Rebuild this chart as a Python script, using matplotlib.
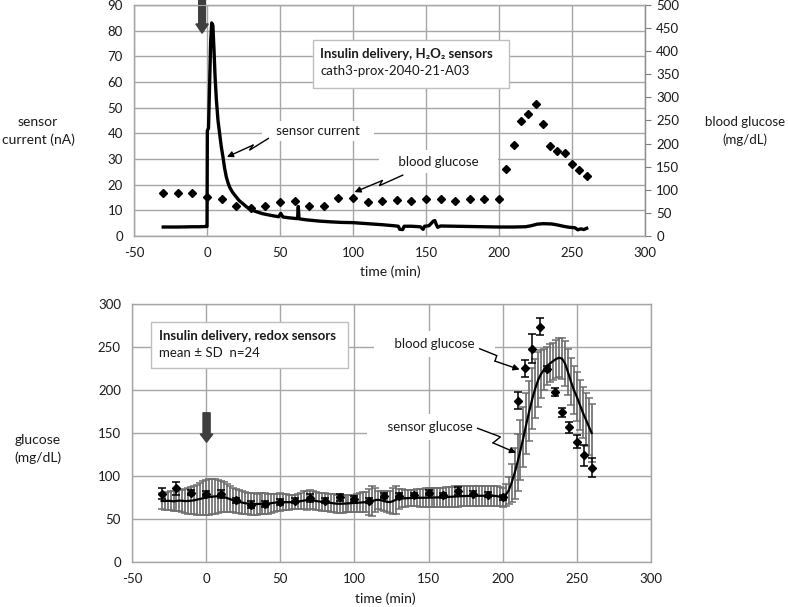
import matplotlib
matplotlib.use("Agg")
import matplotlib.pyplot as plt
from matplotlib.patches import Rectangle, FancyArrow

plt.rcParams['font.family'] = ['Lato', 'DejaVu Sans']
plt.rcParams['axes.unicode_minus'] = False

# ---------------- data: top panel ----------------
cur_time = [-30, -20, -10, -5, -1, 0, 0.2, 1, 1.8, 2.5, 3.2, 4, 4.8, 5.5, 6.4, 7.5, 8.6,
            9.7, 10.9, 12, 13.2, 14.5, 15.5, 17.5, 20, 22, 24.5, 27, 29, 33, 38, 44, 49,
            50.5, 52, 56, 61, 62, 62.5, 63, 68, 77, 85, 92, 100, 110, 120, 128, 131, 132,
            134, 135, 140, 146, 148, 149, 152, 155, 156, 157, 158, 160, 170, 180, 190,
            200, 210, 218, 222, 226, 230, 236, 240, 244, 248, 252, 254, 256, 258, 260]
cur_nA = [3.5, 3.5, 3.6, 3.6, 3.7, 3.7, 41, 42, 60, 76, 83, 82, 72, 62, 53, 45, 40,
          35, 30.8, 26.5, 23, 20.5, 19, 17, 15.2, 13.8, 12.6, 11.4, 10.6, 9.6, 8.7, 8.0, 7.5,
          8.8, 7.4, 7.1, 6.8, 6.8, 11.5, 6.7, 6.3, 5.8, 5.5, 5.3, 5.2, 4.8, 4.4, 4.0, 3.8, 2.6,
          2.5, 3.8, 3.8, 3.6, 2.6, 3.8, 4.0, 5.8, 6.0, 4.5, 3.4, 3.9, 3.8, 3.7, 3.6,
          3.5, 3.5, 3.6, 4.0, 4.6, 4.8, 4.7, 4.3, 3.8, 3.4, 3.2, 2.4, 2.8, 2.5, 3.0]

bg_top_time = [-30, -20, -10, 0, 10, 20, 30, 40, 50, 60, 70, 80, 90, 100, 110, 120, 130,
               140, 150, 160, 170, 180, 190, 200, 205, 210, 215, 220, 225, 230, 235, 240,
               245, 250, 255, 260]
bg_top = [92, 92, 92, 85, 80, 64, 60, 66, 73, 75, 64, 64, 83, 83, 73, 75, 77,
          75, 81, 79, 75, 81, 81, 79, 144, 198, 248, 265, 286, 242, 194, 183,
          179, 156, 143, 130]

# ---------------- data: bottom panel ----------------
sg_time = list(range(-30, 261, 2))
sg_mean = [71.0, 70.8, 71.2, 71.0, 70.6, 71.0, 71.4, 71.2, 70.8, 71.0, 71.3, 71.8, 72.6, 73.5,
           74.3, 75.0, 75.6, 76.0, 76.3, 76.5, 76.4, 75.6, 74.4, 73.2, 72.0, 71.2, 70.2, 69.2,
           68.5, 68.0, 67.7, 67.5, 67.4, 67.6, 67.7, 67.7, 68.0, 68.5, 69.0, 69.4, 69.7, 69.8,
           69.6, 69.5, 69.6, 69.7, 70.3, 71.0, 71.6, 72.0, 72.2, 71.8, 71.0, 70.4, 69.9, 69.7,
           69.2, 68.6, 68.1, 67.8, 67.7, 67.8, 68.0, 68.2, 68.4, 68.5, 68.8, 69.1, 69.4, 69.6,
           70.0, 71.0, 71.9, 72.4, 71.8, 70.8, 70.0, 69.7, 70.8, 72.4, 73.6, 73.9, 74.1, 74.3,
           74.6, 74.8, 74.8, 74.7, 74.8, 74.8, 74.8, 74.9, 75.0, 75.0, 75.1, 75.2, 75.5, 75.8,
           76.0, 76.2, 76.4, 76.6, 76.7, 76.8, 76.9, 77.0, 77.0, 77.0, 77.1, 77.0, 77.0, 77.0,
           77.0, 76.6, 76.0, 75.4, 78.0, 83.0, 92.0, 103.0, 116.0, 130.0, 145.0, 161.0, 176.0,
           190.0, 202.0, 212.0, 219.0, 224.0, 228.0, 231.0, 233.6, 236.0, 237.5, 236.5, 231.0,
           221.0, 210.0, 200.0, 192.0, 183.0, 174.0, 166.0, 158.0, 150.0]
sg_sd = [9.5, 10, 10.5, 11, 11.5, 12, 12.5, 13, 14, 15, 15.5, 16.5, 17.5, 18.5,
         19.5, 20, 20.5, 20.5, 20, 19, 18, 17, 16, 15, 14.2, 13.8, 13.4, 13,
         12.8, 12.6, 12.5, 12.4, 12.2, 12.1, 12, 12, 11.6, 11.1, 10.6, 10.2, 10, 9.5,
         9, 8.5, 8.2, 8, 8.6, 9.4, 10.4, 11, 11, 10.5, 10.2, 10, 10, 10,
         10.2, 10.4, 10.5, 10.5, 10.5, 10.3, 10.1, 10, 10, 10, 10.5, 11, 11.5, 12,
         15, 17, 14, 10.5, 11, 11.8, 12.3, 12.5, 15, 16, 11.5, 10.5, 10, 9.6,
         9.5, 9.5, 9.8, 10.2, 10.5, 10.8, 11, 11, 11, 11, 11, 11, 11.2, 11.5,
         11.7, 12, 12, 12, 11.8, 11.7, 11.6, 11.5, 11.5, 11.5, 11.5, 11.5, 11.5, 11.5,
         11.5, 11.3, 11.1, 11, 13, 15.5, 22, 30, 33, 35, 35, 35, 35,
         35, 34, 32, 28, 24, 22.5, 22, 21.5, 22, 22.5, 24, 26.5,
         27, 27, 28, 28.5, 29, 30, 31, 33, 34]

bg_bot_time = [-30, -20, -10, 0, 10, 20, 30, 40, 50, 60, 70, 80, 90, 100, 110, 120, 130,
               140, 150, 160, 170, 180, 190, 200, 210, 215, 220, 225, 230, 235, 240, 245,
               250, 255, 260]
bg_bot_mean = [79.6, 85.5, 80.4, 79.2, 79.2, 71.8, 66.7, 67.5, 69.8, 71.4, 74.5, 71.4, 75.3,
               73.3, 71.4, 77.3, 77.3, 77.6, 80.4, 77.6, 82.4, 79.2, 78.4, 75.3, 187.5, 225,
               248, 273.8, 224.6, 197.7, 174, 156.7, 140, 124, 109.8]
bg_bot_sd = [6, 7, 3, 3, 5, 3, 4, 4, 3, 3, 5, 3, 4, 3, 3, 3, 3, 3, 3, 3, 5, 3, 3, 3,
             10, 9.5, 17, 10, 3, 4.5, 5, 6.5, 8, 12, 11]

x_ticks = [-50, 0, 50, 100, 150, 200, 250, 300]
top_left_ticks = [0, 10, 20, 30, 40, 50, 60, 70, 80, 90]
top_right_ticks = [0, 50, 100, 150, 200, 250, 300, 350, 400, 450, 500]
bot_ticks = [0, 50, 100, 150, 200, 250, 300]

GRID = '#a6a6a6'
TXT = '#1a1a1a'
FS = 9.5

fig = plt.figure(figsize=(7.88, 6.07), dpi=100)


def style_axis(ax):
    ax.grid(True, color=GRID, lw=1.0, zorder=0)
    ax.set_axisbelow(True)
    for s in ax.spines.values():
        s.set_color(GRID)
        s.set_linewidth(1.0)
    ax.tick_params(axis='both', length=0, labelsize=FS, colors=TXT, pad=8)


def zigzag(ax, pts):
    xs = [p[0] for p in pts[:-1]]
    ys = [p[1] for p in pts[:-1]]
    ax.plot(xs, ys, color='black', lw=1.0, zorder=6, solid_joinstyle='miter')
    ax.annotate('', xy=pts[-1], xytext=pts[-2],
                arrowprops=dict(arrowstyle='-|>', color='black', lw=1.0,
                                mutation_scale=9, shrinkA=0, shrinkB=0), zorder=6)


# ================= top panel =================
ax = fig.add_axes([0.1701, 0.6112, 0.6485, 0.3806])
style_axis(ax)
ax.set_xlim(-50, 300)
ax.set_ylim(0, 90)
ax.set_xticks(x_ticks)
ax.set_yticks(top_left_ticks)
ax.plot(cur_time, cur_nA, color='black', lw=2.4, zorder=4, solid_joinstyle='round')

ax2 = ax.twinx()
ax2.set_ylim(0, 500)
ax2.set_yticks(top_right_ticks)
ax2.tick_params(axis='y', length=4, color='#7f7f7f', labelsize=FS, colors=TXT, pad=4)
ax2.tick_params(axis='y', color='#7f7f7f')
for s in ax2.spines.values():
    s.set_color(GRID)
ax2.spines['right'].set_color('#8c8c8c')
ax2.plot(bg_top_time, bg_top, linestyle='none', marker='D', color='black', ms=4, zorder=5)

# text box
ax.add_patch(Rectangle((72.5, 57.5), 134.5, 18.9, fc='white', ec='#bfbfbf', lw=1.0, zorder=5))
ax.text(77.5, 71.0, 'Insulin delivery, H₂O₂ sensors', fontsize=9.5, fontweight='bold',
        va='center', ha='left', color=TXT, zorder=6)
ax.text(77.5, 64.3, 'cath3-prox-2040-21-A03', fontsize=9.5, va='center', ha='left',
        color=TXT, zorder=6)

# labels with white background
ax.text(76, 41.0, '   sensor current   ', fontsize=FS, ha='center', va='center', color=TXT,
        zorder=5, bbox=dict(fc='white', ec='none', pad=3))
ax.text(158.5, 28.9, '    blood glucose    ', fontsize=FS, ha='center', va='center', color=TXT,
        zorder=5, bbox=dict(fc='white', ec='none', pad=4))
zigzag(ax, [(42.0, 38.0), (29.0, 33.4), (31.5, 35.4), (13.6, 30.8)])
zigzag(ax, [(134.0, 23.7), (118.0, 19.6), (120.0, 21.6), (101.0, 17.1)])

# insulin arrow
ax.add_patch(FancyArrow(-3.4, 92.5, 0, -13.5, width=4.6, head_width=8.5, head_length=3.6,
                        length_includes_head=True, fc='#3f3f3f', ec='#3f3f3f',
                        clip_on=False, zorder=7))

fig.text(38 / 788, 1 - 131 / 607, 'sensor\ncurrent (nA)', ha='center', va='center',
         fontsize=FS + 0.5, color=TXT, linespacing=1.5)
fig.text(745 / 788, 1 - 131 / 607, 'blood glucose\n(mg/dL)', ha='center', va='center',
         fontsize=FS, color=TXT, linespacing=1.6)
fig.text(390 / 788, 1 - 272 / 607, 'time (min)', ha='center', va='center',
         fontsize=FS + 0.5, color=TXT)

# ================= bottom panel =================
bx = fig.add_axes([0.1675, 0.0741, 0.6586, 0.4251])
style_axis(bx)
bx.set_xlim(-50, 300)
bx.set_ylim(0, 300)
bx.set_xticks(x_ticks)
bx.set_yticks(bot_ticks)

bx.errorbar(sg_time, sg_mean, yerr=sg_sd, fmt='none', ecolor='#6f6f6f', elinewidth=1.25,
            capsize=2.6, capthick=1.1, zorder=3)
bx.plot(sg_time, sg_mean, color='black', lw=1.6, zorder=4)
bx.errorbar(bg_bot_time, bg_bot_mean, yerr=bg_bot_sd, fmt='D', color='black', ms=4,
            elinewidth=1.1, capsize=3, capthick=1.1, zorder=5)

bx.add_patch(Rectangle((-37, 225.3), 132.4, 53.3, fc='white', ec='#bfbfbf', lw=1.0, zorder=5))
bx.text(-31.5, 263, 'Insulin delivery, redox sensors', fontsize=9.5, fontweight='bold',
        va='center', ha='left', color=TXT, zorder=6)
bx.text(-31.5, 243.5, 'mean ± SD  n=24', fontsize=9.5, va='center', ha='left',
        color=TXT, zorder=6)

bx.text(154, 254, '    blood glucose    ', fontsize=FS, ha='center', va='center', color=TXT,
        zorder=5, bbox=dict(fc='white', ec='none', pad=5))
bx.text(151, 157, '    sensor glucose    ', fontsize=FS, ha='center', va='center', color=TXT,
        zorder=5, bbox=dict(fc='white', ec='none', pad=5))
zigzag(bx, [(184.5, 248), (196.0, 240), (194.8, 233.6), (211.4, 223.8)])
zigzag(bx, [(183.0, 155.5), (198.5, 145.5), (193.5, 138.5), (209.0, 127)])

bx.add_patch(FancyArrow(0.3, 173.5, 0, -34.2, width=4.8, head_width=8.5, head_length=9.5,
                        length_includes_head=True, fc='#3f3f3f', ec='#3f3f3f', zorder=7))

fig.text(38 / 788, 1 - 449 / 607, 'glucose\n(mg/dL)', ha='center', va='center',
         fontsize=FS + 0.5, color=TXT, linespacing=1.5)
fig.text(385 / 788, 1 - 599 / 607, 'time (min)', ha='center', va='center',
         fontsize=FS + 0.5, color=TXT)

fig.savefig('out.png', dpi=100)
